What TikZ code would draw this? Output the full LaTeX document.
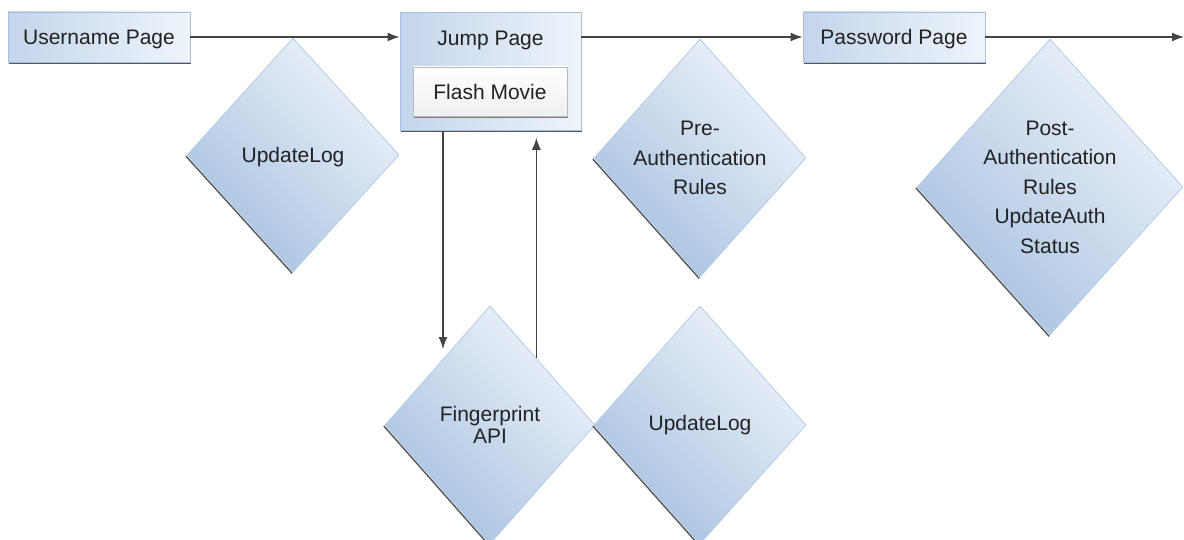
\documentclass[tikz,border=0pt]{standalone}
\usepackage{fontspec}
\setmainfont{Liberation Sans}
\usetikzlibrary{shapes.geometric,arrows.meta,calc}
\definecolor{txt}{HTML}{222222}
\definecolor{lnc}{HTML}{444444}
\definecolor{boxL}{HTML}{C3D5EC}
\definecolor{boxR}{HTML}{EEF4FB}
\definecolor{boxB}{HTML}{A9BFDA}
\definecolor{dmLight}{HTML}{EEF3FA}
\definecolor{dmDark}{HTML}{A7C1E0}
\definecolor{dmBorder}{HTML}{B4CBE6}
\definecolor{shad}{HTML}{555555}
\tikzset{
  pagebox/.style={rectangle, draw=boxB, line width=0.8pt, left color=boxL, right color=boxR,
    inner sep=0pt, text=txt, text depth=0pt, font=\fontsize{21}{24}\selectfont},
  flashbox/.style={rectangle, draw=gray!55, line width=0.8pt, top color=white, bottom color=gray!12,
    inner sep=0pt, text=txt, font=\fontsize{21}{24}\selectfont},
  rule/.style={diamond, draw=dmBorder, line width=0.8pt, top color=dmLight, bottom color=dmDark,
    shading angle=-45, inner sep=0pt, text=txt, align=center,
    font=\fontsize{21}{29.5}\selectfont},
  flow/.style={draw=lnc, line width=1.3pt, -{Latex[length=12pt,width=9pt]}},
  shadowline/.style={draw=shad, line width=1.4pt},
}
\begin{document}
\begin{tikzpicture}[x=1pt,y=-1pt]
\useasboundingbox (0,0) rectangle (1184,540);
\clip (0,0) rectangle (1184,540);
% page boxes
\node[pagebox, minimum width=182pt, minimum height=50pt] (user) at (99,37) {Username Page};
\node[pagebox, minimum width=181pt, minimum height=118pt, anchor=north] (jump) at (490.5,12) {};
\node[text=txt, text depth=0pt, font=\fontsize{21}{24}\selectfont] (jumpt) at (490.5,38) {Jump Page};
\node[flashbox, minimum width=154pt, minimum height=49pt] (flash) at (490,91.5) {Flash Movie};
\node[pagebox, minimum width=182pt, minimum height=50pt] (pass) at (894,37) {Password Page};
% box shadows
\draw[shadowline] ([xshift=1pt,yshift=-1pt]user.south west) -- ([xshift=1pt,yshift=-1pt]user.south east);
\draw[shadowline] ([xshift=1pt,yshift=-1pt]jump.south west) -- ([xshift=1pt,yshift=-1pt]jump.south east);
\draw[shadowline] ([xshift=1pt,yshift=-1pt]pass.south west) -- ([xshift=1pt,yshift=-1pt]pass.south east);
\draw[draw=gray, line width=1.2pt] ([xshift=1pt,yshift=-1pt]flash.south west) -- ([xshift=1pt,yshift=-1pt]flash.south east);
% diamonds
\node[rule, text depth=0pt, minimum width=212pt, minimum height=234pt] (ul1) at (293,155) {UpdateLog};
\node[rule, minimum width=212pt, minimum height=238pt] (pre) at (700,158) {Pre-\\Authentication\\Rules};
\node[rule, minimum width=264pt, minimum height=296pt] (post) at (1050,187) {Post-\\Authentication\\Rules\\UpdateAuth\\Status};
\node[rule, minimum width=210pt, minimum height=238pt, font=\fontsize{21}{22}\selectfont] (fp) at (490,425) {Fingerprint\\API};
\node[rule, minimum width=212pt, minimum height=238pt] (ul2) at (700,425) {UpdateLog};
% diamond shadows (lower-left edges)
\foreach \d in {ul1,pre,post,fp,ul2}{
  \draw[shadowline] ([xshift=-0.8pt,yshift=-1pt]\d.west) -- ([xshift=-0.8pt,yshift=-1pt]\d.south);
}
% connectors
\coordinate (end) at (1184,37);
\coordinate (d1) at (443,349);
\coordinate (u1) at ($(fp.north)!0.44!(fp.east)$);
\coordinate (u2) at (u1 |- jump.south);
\draw[flow] (user.east) -- (user.east -| jump.west);
\draw[flow] (jump.east |- pass.west) -- (pass.west);
\draw[flow] (pass.east) -- (end);
\draw[flow] (jump.south -| d1) -- (d1);
\draw[flow, shorten >=7pt] (u1) -- (u2);
\end{tikzpicture}
\end{document}
